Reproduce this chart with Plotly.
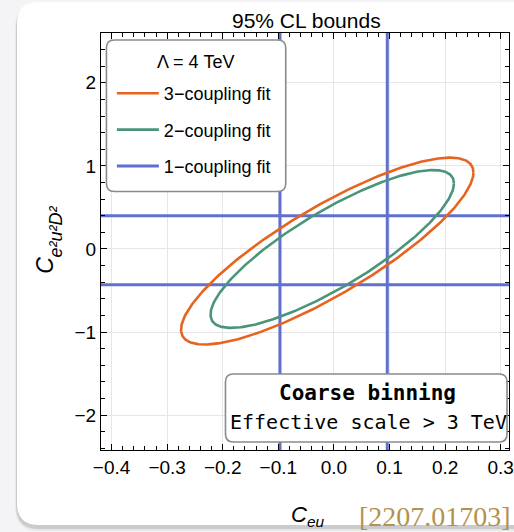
import numpy as np
import plotly.graph_objects as go

# ---------------- data ----------------
x_ticks = [-0.4, -0.3, -0.2, -0.1, 0.0, 0.1, 0.2, 0.3]
y_ticks = [-2, -1, 0, 1, 2]
x_range = [-0.419, 0.315]
y_range = [-2.42, 2.6]

# 95% CL ellipses: centre, half-extent in x, half-extent in y, correlation
fit3_center = (-0.012, -0.025)
fit3_halfwidths = (0.263, 1.125)
fit3_rho = 0.84

fit2_center = (-0.003, 0.0)
fit2_halfwidths = (0.219, 0.95)
fit2_rho = 0.83

# 1-coupling fit bounds
fit1_ceu_bounds = (-0.097, 0.096)
fit1_ce2u2d2_bounds = (-0.43, 0.40)

series_names = ["3\u2212coupling fit", "2\u2212coupling fit", "1\u2212coupling fit"]
series_colors = ["#E6641F", "#4A957A", "#6070CF"]

# ---------------- geometry helpers ----------------
W, H = 514, 532
PL, PR, PT, PB = 101, 514, 33, 450


def px2x(p):
    return (p - PL) / (PR - PL)


def py2y(p):
    return (PB - p) / (PB - PT)


def rrect(x0, y0, x1, y1, r):
    """rounded rectangle path (pixel input -> paper coords)"""
    X = lambda v: f"{px2x(v):.5f}"
    Y = lambda v: f"{py2y(v):.5f}"
    s = f"M{X(x0 + r)},{Y(y0)} L{X(x1 - r)},{Y(y0)} Q{X(x1)},{Y(y0)} {X(x1)},{Y(y0 + r)} "
    s += f"L{X(x1)},{Y(y1 - r)} Q{X(x1)},{Y(y1)} {X(x1 - r)},{Y(y1)} "
    s += f"L{X(x0 + r)},{Y(y1)} Q{X(x0)},{Y(y1)} {X(x0)},{Y(y1 - r)} "
    s += f"L{X(x0)},{Y(y0 + r)} Q{X(x0)},{Y(y0)} {X(x0 + r)},{Y(y0)} Z"
    return s


def ellipse(center, halfwidths, rho, n=400):
    sx, sy = halfwidths
    cov = np.array([[sx * sx, rho * sx * sy], [rho * sx * sy, sy * sy]])
    L = np.linalg.cholesky(cov)
    t = np.linspace(0, 2 * np.pi, n)
    pts = L @ np.vstack([np.cos(t), np.sin(t)])
    return pts[0] + center[0], pts[1] + center[1]


# ---------------- figure ----------------
fig = go.Figure()

b1x, b2x = fit1_ceu_bounds
b1y, b2y = fit1_ce2u2d2_bounds
fig.add_trace(go.Scatter(
    x=[b1x, b1x, None, b2x, b2x, None, x_range[0], x_range[1], None, x_range[0], x_range[1]],
    y=[y_range[0], y_range[1], None, y_range[0], y_range[1], None, b1y, b1y, None, b2y, b2y],
    mode="lines", line=dict(color=series_colors[2], width=3),
    name=series_names[2], legendgroup="c", legendrank=3))

ex, ey = ellipse(fit3_center, fit3_halfwidths, fit3_rho)
fig.add_trace(go.Scatter(x=ex, y=ey, mode="lines", line=dict(color=series_colors[0], width=2.6),
                         name=series_names[0], legendgroup="a", legendrank=1))
ex, ey = ellipse(fit2_center, fit2_halfwidths, fit2_rho)
fig.add_trace(go.Scatter(x=ex, y=ey, mode="lines", line=dict(color=series_colors[1], width=2.6),
                         name=series_names[1], legendgroup="b", legendrank=2))

sans = "Liberation Sans, Arial"
tickfont = dict(family=sans, size=19, color="black")
fig.update_xaxes(range=x_range, tickvals=x_ticks, ticktext=[f"{v:.1f}".replace("-", "\u2212") for v in x_ticks],
                 ticks="inside", ticklen=6, tickwidth=1, tickcolor="black",
                 showline=True, linecolor="black", linewidth=1.3, mirror="ticks",
                 showgrid=True, gridcolor="#e6e6e6", gridwidth=1, zeroline=False,
                 minor=dict(ticks="inside", ticklen=3.5, dtick=0.02, tick0=0, tickcolor="black", showgrid=False),
                 tickfont=tickfont, ticklabeloverflow="allow")
fig.update_yaxes(range=y_range, tickvals=y_ticks, ticktext=[str(v).replace("-", "\u2212") for v in y_ticks],
                 ticks="inside", ticklen=6, tickwidth=1, tickcolor="black",
                 showline=True, linecolor="black", linewidth=1.3, mirror="ticks",
                 showgrid=True, gridcolor="#e6e6e6", gridwidth=1, zeroline=False,
                 minor=dict(ticks="inside", ticklen=3.5, dtick=0.2, tick0=0, tickcolor="black", showgrid=False),
                 tickfont=tickfont, ticklabeloverflow="allow")

shapes = [
    # card shadow + card
    dict(type="path", path=rrect(14, 4, 580, 531, 24), xref="paper", yref="paper",
         fillcolor="rgba(0,0,0,0.05)", line=dict(width=0), layer="below"),
    dict(type="path", path=rrect(15, 5, 580, 529, 23), xref="paper", yref="paper",
         fillcolor="rgba(0,0,0,0.12)", line=dict(width=0), layer="below"),
    dict(type="path", path=rrect(16, 2, 580, 525, 22), xref="paper", yref="paper",
         fillcolor="white", line=dict(width=0), layer="below"),
    # legend box
    dict(type="path", path=rrect(106.5, 40, 288, 191.5, 8), xref="paper", yref="paper",
         fillcolor="white", line=dict(color="#8a8a8a", width=1.6), layer="above"),
    # info box
    dict(type="path", path=rrect(227, 374, 512, 442, 8), xref="paper", yref="paper",
         fillcolor="white", line=dict(color="#8a8a8a", width=1.6), layer="above"),
]

mono = "DejaVu Sans Mono"
annotations = [
    dict(text="95% CL bounds", x=px2x(309), y=py2y(21), xref="paper", yref="paper",
         showarrow=False, xanchor="center", yanchor="middle",
         font=dict(family=sans, size=21, color="black")),
    dict(text="\u039b = 4 TeV", x=px2x(197), y=py2y(62), xref="paper", yref="paper",
         showarrow=False, xanchor="center", yanchor="middle",
         font=dict(family=sans, size=18, color="black")),
    dict(text="<i>C</i><sub><i>eu</i></sub>", x=px2x(310), y=py2y(516), xref="paper", yref="paper",
         showarrow=False, xanchor="center", yanchor="middle",
         font=dict(family=sans, size=22, color="black")),
    # y-axis title: C with subscript e²u²D² (rotated)
    dict(text="<i>C</i>", x=px2x(44), y=py2y(265), xref="paper", yref="paper",
         showarrow=False, xanchor="center", yanchor="middle", textangle=-90,
         font=dict(family=sans, size=23, color="black")),
    dict(text="<i>e\u00b2u\u00b2D\u00b2</i>", x=px2x(55), y=py2y(232), xref="paper", yref="paper",
         showarrow=False, xanchor="center", yanchor="middle", textangle=-90,
         font=dict(family=sans, size=18, color="black")),
    dict(text="[2207.01703]", x=px2x(518), y=py2y(516), xref="paper", yref="paper",
         showarrow=False, xanchor="right", yanchor="middle",
         font=dict(family="Liberation Serif, Times New Roman", size=28, color="#B3924F")),
    dict(text="<b>Coarse binning</b>", x=px2x(371), y=py2y(393), xref="paper", yref="paper",
         showarrow=False, xanchor="center", yanchor="middle",
         font=dict(family=mono, size=21, color="black")),
    dict(text="Effective scale > 3 TeV", x=px2x(372), y=py2y(422), xref="paper", yref="paper",
         showarrow=False, xanchor="center", yanchor="middle",
         font=dict(family=mono, size=20, color="black")),
]

fig.update_layout(
    width=W, height=H,
    margin=dict(l=PL, r=W - PR, t=PT, b=H - PB, pad=0),
    paper_bgcolor="#f4f4f7", plot_bgcolor="white",
    shapes=shapes, annotations=annotations,
    showlegend=True,
    legend=dict(x=px2x(112), y=py2y(75), xanchor="left", yanchor="top",
                bgcolor="rgba(0,0,0,0)", borderwidth=0,
                traceorder="grouped", tracegroupgap=10, itemwidth=42,
                font=dict(family=sans, size=18, color="black")),
)

fig.write_html("out.html")
